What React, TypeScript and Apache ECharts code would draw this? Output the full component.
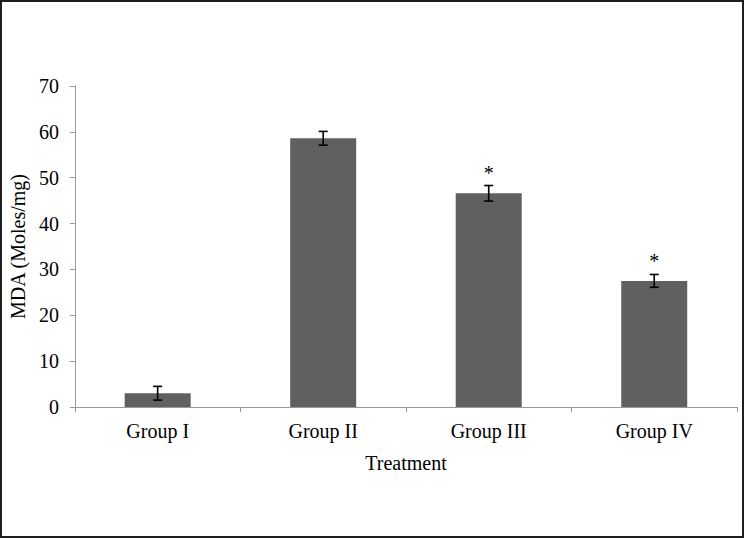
import React, { useEffect, useRef } from "react";
import * as echarts from "echarts";

const categories = ["Group I", "Group II", "Group III", "Group IV"];
const meanValues = [3.0, 58.6, 46.6, 27.5];
const errorValues = [1.5, 1.5, 1.7, 1.4];
const significance = ["", "", "*", "*"];
const yTicks = { min: 0, max: 70, interval: 10 };

const FONT = '"Liberation Serif", "Times New Roman", serif';

export default function App() {
  const ref = useRef<HTMLDivElement>(null);

  useEffect(() => {
    document.body.style.margin = "0";
    if (!ref.current) return;
    const chart = echarts.init(ref.current, undefined, { renderer: "svg" });

    const errData = categories.map((_, i) => [
      i,
      meanValues[i] - errorValues[i],
      meanValues[i] + errorValues[i],
    ]);

    chart.setOption({
      animation: false,
      backgroundColor: "#ffffff",
      grid: { left: 72, right: 7, top: 86, bottom: 131 },
      xAxis: {
        type: "category",
        data: categories,
        name: "Treatment",
        nameLocation: "middle",
        nameGap: 46,
        nameTextStyle: { fontFamily: FONT, fontSize: 20, color: "#000" },
        axisLine: { lineStyle: { color: "#999999", width: 1 } },
        axisTick: { show: true, length: 5, lineStyle: { color: "#999999" } },
        axisLabel: { fontFamily: FONT, fontSize: 20, color: "#000", margin: 14 },
      },
      yAxis: {
        type: "value",
        min: yTicks.min,
        max: yTicks.max,
        interval: yTicks.interval,
        name: "MDA (Moles/mg)",
        nameLocation: "middle",
        nameGap: 42,
        nameTextStyle: { fontFamily: FONT, fontSize: 20, color: "#000" },
        axisLine: { show: true, lineStyle: { color: "#999999", width: 1 } },
        axisTick: { show: true, length: 5, lineStyle: { color: "#999999" } },
        splitLine: { show: false },
        axisLabel: { fontFamily: FONT, fontSize: 20, color: "#000", margin: 16 },
      },
      series: [
        {
          type: "bar",
          data: meanValues,
          barWidth: 66,
          itemStyle: { color: "#606060" },
        },
        {
          type: "custom",
          data: errData,
          z: 5,
          renderItem: (params: any, api: any) => {
            const idx = api.value(0);
            const lo = api.coord([idx, api.value(1)]);
            const hi = api.coord([idx, api.value(2)]);
            const cap = 4.5;
            const style = { stroke: "#000", lineWidth: 1.6 };
            const children: any[] = [
              { type: "line", shape: { x1: hi[0], y1: hi[1], x2: lo[0], y2: lo[1] }, style },
              { type: "line", shape: { x1: hi[0] - cap, y1: hi[1], x2: hi[0] + cap, y2: hi[1] }, style },
              { type: "line", shape: { x1: lo[0] - cap, y1: lo[1], x2: lo[0] + cap, y2: lo[1] }, style },
            ];
            const sig = significance[params.dataIndex];
            if (sig) {
              children.push({
                type: "text",
                style: {
                  text: sig,
                  x: hi[0],
                  y: hi[1] - 3,
                  textAlign: "center",
                  textVerticalAlign: "bottom",
                  font: `20px ${FONT}`,
                  fill: "#000",
                },
              });
            }
            return { type: "group", children };
          },
        },
      ],
      graphic: [
        {
          type: "rect",
          shape: { x: 1, y: 1, width: 742, height: 536 },
          style: { fill: "none", stroke: "#1e1e1e", lineWidth: 2 },
          silent: true,
        },
      ],
    });

    return () => chart.dispose();
  }, []);

  return <div ref={ref} style={{ width: 744, height: 538 }} />;
}
